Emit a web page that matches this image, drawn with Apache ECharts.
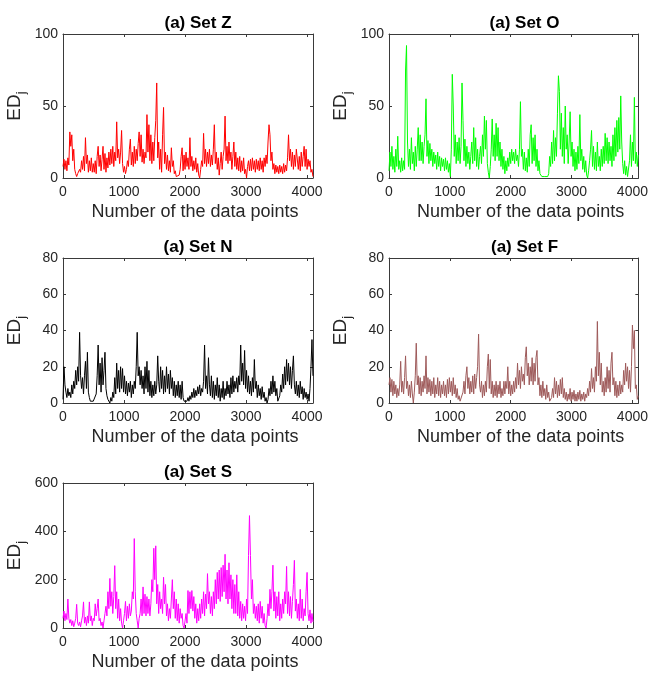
<!DOCTYPE html>
<html><head><meta charset="utf-8">
<script src="https://cdn.jsdelivr.net/npm/echarts@6/dist/echarts.min.js"></script>
<style>html,body{margin:0;padding:0;background:#fff}#c{width:651px;height:673px}</style>
</head><body><div id="c"></div>
<script>
// sample spacing (data points) between read values
const xStep = 16;
const xMax = 4097;
const xTickStep = 1000;

const setZ = [
 8,13,6,12,5,14,9,32,22,30,12,20,6,3,1,3,2,6,4,12,6,15,5,28,10,16,4,12,5,14,4,10,
 4,12,3,15,22,8,16,5,13,22,6,17,4,14,7,18,9,20,10,22,8,18,12,39,14,20,10,18,33,10,4,8,
 3,6,12,8,20,27,9,18,8,22,10,20,12,24,32,15,30,11,20,10,18,14,44,18,37,12,30,10,25,12,28,40,
 66,14,25,6,20,4,30,49,10,18,6,16,5,12,4,21,8,12,3,5,1,2,0,2,6,15,21,5,16,6,18,8,
 14,6,28,8,15,5,12,6,14,4,10,2,0,6,12,8,31,10,20,8,18,10,20,8,16,9,20,37,10,18,6,14,
 2,10,18,6,15,20,43,12,22,10,25,12,18,6,15,25,8,18,6,14,5,15,4,12,5,14,3,6,0,8,12,5,
 13,5,14,6,12,4,13,6,12,5,14,6,12,4,14,8,16,10,25,37,30,12,18,6,10,3,9,4,8,3,9,4,
 8,3,10,4,9,5,14,30,12,20,8,18,6,16,8,20,21,6,15,5,18,8,15,22,8,20,6,13,8,12,4,6,
 1];
const setO = [
 5,18,8,22,6,15,4,20,8,29,6,12,4,14,5,12,6,75,92,25,8,20,6,28,10,18,5,22,8,20,35,12,
 30,12,25,10,22,30,55,15,26,10,24,12,20,8,18,10,16,6,18,8,15,5,14,8,13,5,14,6,12,4,10,1,
 20,72,50,15,30,10,25,12,28,10,22,66,40,12,27,8,22,10,18,6,15,25,10,35,12,28,8,20,6,15,22,10,
 30,15,43,20,40,10,4,0,8,20,41,15,30,12,38,15,35,12,25,8,20,6,15,3,12,5,14,8,18,10,20,12,
 18,10,20,12,16,8,20,53,15,20,6,18,5,14,4,20,8,30,37,10,28,12,30,8,20,5,12,3,2,1,1,0,
 1,1,0,1,3,15,8,25,10,33,12,28,15,45,71,60,20,45,15,35,10,50,20,30,10,25,46,15,25,8,20,5,
 18,6,22,10,44,12,20,6,15,4,12,2,0,5,12,20,33,8,22,6,18,5,25,8,15,5,20,8,22,10,31,12,
 28,10,25,12,22,8,30,12,35,15,40,18,42,20,57,25,10,3,12,2,8,1,0,12,30,8,25,12,56,10,18,8,
 16];
const setN = [
 2,20,10,6,3,8,4,6,3,10,5,12,8,18,10,20,12,39,15,8,14,5,15,23,8,28,6,3,1,2,0,1,
 1,0,5,15,32,10,22,6,25,10,18,28,8,4,2,1,0,3,1,6,3,14,5,22,8,18,6,20,8,19,6,15,
 5,12,4,11,6,12,3,10,5,12,8,20,39,15,20,10,18,8,15,5,20,8,23,6,18,4,12,3,10,4,12,5,
 10,26,12,6,20,8,18,5,15,6,20,8,16,5,18,8,14,4,12,3,10,4,12,3,10,2,12,3,1,0,2,1,
 3,1,4,2,6,3,8,3,7,4,9,5,10,4,8,6,12,32,8,15,5,25,10,4,15,3,12,2,10,4,14,3,
 10,1,8,3,12,2,8,4,12,5,10,3,14,5,15,6,12,8,14,6,15,10,32,12,22,10,29,8,18,6,15,5,
 12,4,14,6,24,8,12,3,10,4,8,2,9,3,6,1,3,0,2,8,4,12,5,15,6,12,4,8,1,0,4,10,
 6,16,8,20,10,24,12,22,10,20,8,18,26,10,5,12,4,10,3,12,5,9,2,8,3,6,2,5,1,8,20,35,
 15];
const setF = [
 10,14,6,13,4,12,5,10,3,8,4,10,23,6,12,5,14,26,8,12,4,10,3,12,5,0,6,15,33,10,15,5,
 14,4,12,6,15,8,26,5,14,6,13,4,12,5,14,3,10,5,14,4,12,3,10,5,12,4,10,3,13,5,14,6,
 12,4,14,5,10,3,8,2,4,1,0,2,6,12,5,15,20,8,14,5,12,6,15,5,16,8,14,20,38,10,6,12,
 3,10,4,12,6,20,27,8,24,5,12,3,10,4,12,3,10,5,12,3,8,4,12,5,12,8,20,5,12,4,10,5,
 12,6,14,8,22,10,18,8,20,12,16,10,25,31,15,22,10,20,12,25,10,22,12,25,29,10,14,4,10,3,12,4,
 8,2,10,3,6,1,0,3,8,3,14,5,12,3,10,4,13,5,14,3,8,2,6,1,5,2,8,1,6,2,7,1,
 5,1,6,2,7,1,5,2,6,1,5,3,8,4,12,6,19,8,14,6,20,12,45,15,28,10,22,6,12,4,14,6,
 20,8,18,6,22,28,10,14,4,12,3,10,4,12,5,10,6,18,10,22,12,20,8,18,6,20,43,30,40,8,10,2,
 4];
const setS = [
 40,70,30,60,35,120,40,20,35,10,30,5,20,40,98,20,10,25,5,30,50,108,20,45,10,50,20,108,30,50,10,40,
 30,100,50,80,120,30,40,10,25,0,30,60,90,50,150,80,205,90,150,60,130,258,80,150,40,120,30,80,20,0,30,60,
 110,30,90,40,100,50,70,150,120,370,150,60,30,0,40,60,120,50,170,60,140,50,130,60,120,50,100,200,150,330,200,340,
 100,180,60,150,80,120,60,210,100,180,50,100,30,80,40,120,200,80,150,40,120,30,100,20,80,40,60,10,0,5,60,20,
 155,60,150,80,155,70,130,40,100,20,80,30,100,40,120,60,150,50,140,80,225,100,150,60,130,50,150,80,200,100,230,120,
 240,110,250,130,260,150,305,120,240,100,270,120,220,80,200,60,180,60,220,50,150,40,110,30,100,40,90,30,120,60,300,465,
 300,120,200,60,100,40,90,30,100,20,110,40,90,20,60,10,0,40,100,50,160,80,150,260,70,150,40,130,50,150,30,100,
 40,120,60,150,100,255,60,150,50,130,40,110,180,280,70,120,40,100,30,160,40,120,30,80,50,150,230,60,30,75,20,60,
 25];

const titles = ['(a) Set Z','(a) Set O','(a) Set N','(a) Set F','(a) Set S'];
const seriesData = [setZ, setO, setN, setF, setS];
const yMaxes = [100, 100, 80, 80, 600];
const yIntervals = [50, 50, 20, 20, 200];
const colors = ['#ff0000', '#00ff00', '#000000', '#9e5a5a', '#ff00ff'];

const grids = [
 {left: 63, top: 34, width: 250, height: 144},
 {left: 389, top: 34, width: 251, height: 144},
 {left: 63, top: 258, width: 250, height: 145},
 {left: 389, top: 258, width: 251, height: 145},
 {left: 63, top: 483, width: 250, height: 145}
];

const FONT = "'Liberation Sans', Arial, sans-serif";
const AX = '#262626';
const BOX = '#3a3a3a';

const option = {
 backgroundColor: '#fff',
 animation: false,
 title: [], grid: [], xAxis: [], yAxis: [], series: []
};

grids.forEach((g, i) => {
 option.grid.push(Object.assign({containLabel: false}, g));
 option.title.push({
  text: titles[i], left: g.left + g.width / 2 + 5, top: g.top - 24, textAlign: 'center',
  textStyle: {fontFamily: FONT, fontWeight: 'bold', fontSize: 17, color: '#000'}
 });
 const lineS = {show: true, onZero: false, lineStyle: {color: BOX, width: 1}};
 const tickS = {show: true, inside: true, length: 3, lineStyle: {color: BOX}};
 option.xAxis.push({
  type: 'value', gridIndex: i, min: 0, max: xMax, interval: xTickStep,
  name: 'Number of the data points', nameLocation: 'middle', nameGap: 25,
  nameTextStyle: {fontFamily: FONT, fontSize: 18, color: AX, padding: [0, 0, 0, 14]},
  axisLine: lineS, axisTick: tickS,
  axisLabel: {fontFamily: FONT, fontSize: 14, color: AX, margin: 7, showMaxLabel: false,
   formatter: v => String(v)},
  splitLine: {show: false}
 });
 option.xAxis.push({
  type: 'value', gridIndex: i, position: 'top', min: 0, max: xMax, interval: xTickStep,
  axisLine: lineS, axisTick: tickS,
  axisLabel: {show: false}, splitLine: {show: false}
 });
 option.yAxis.push({
  type: 'value', gridIndex: i, min: 0, max: yMaxes[i], interval: yIntervals[i],
  name: '{a|ED}{b|j}', nameLocation: 'middle', nameGap: 35,
  nameTextStyle: {
   rich: {
    a: {fontFamily: FONT, fontSize: 19, color: AX, lineHeight: 26, verticalAlign: 'middle'},
    b: {fontFamily: FONT, fontSize: 13, color: AX, lineHeight: 26, verticalAlign: 'bottom'}
   }
  },
  axisLine: lineS, axisTick: tickS,
  axisLabel: {fontFamily: FONT, fontSize: 14, color: AX, margin: 5, formatter: v => String(v)},
  splitLine: {show: false}
 });
 option.yAxis.push({
  type: 'value', gridIndex: i, position: 'right', min: 0, max: yMaxes[i], interval: yIntervals[i],
  axisLine: lineS, axisTick: tickS,
  axisLabel: {show: false}, splitLine: {show: false}
 });
 option.series.push({
  type: 'line', xAxisIndex: 2 * i, yAxisIndex: 2 * i,
  data: seriesData[i].map((v, k) => [k * xStep, v]),
  showSymbol: false, symbol: 'none', clip: true,
  lineStyle: {color: colors[i], width: 1}
 });
});

const chart = echarts.init(document.getElementById('c'), null, {renderer: 'canvas'});
chart.setOption(option);
</script></body></html>
